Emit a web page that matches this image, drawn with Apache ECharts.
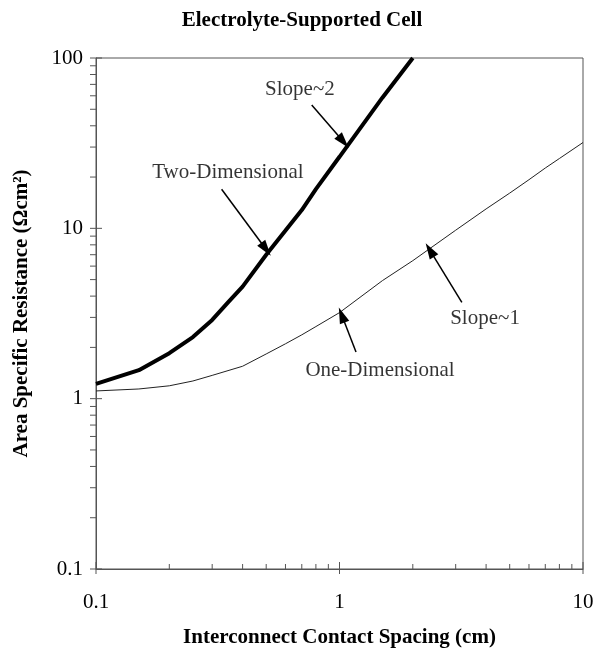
<!DOCTYPE html>
<html><head><meta charset="utf-8">
<script src="https://cdn.jsdelivr.net/npm/echarts@6/dist/echarts.min.js"></script>
<style>html,body{margin:0;padding:0;background:#fff}#c{width:604px;height:653px}</style>
</head><body><div id="c"></div><script>
// ---- data ----
const titleText = 'Electrolyte-Supported Cell';
const xAxisName = 'Interconnect Contact Spacing (cm)';
const yAxisName = 'Area Specific Resistance (\u03A9cm\u00B2)';

const twoDimX = [0.1, 0.15, 0.2, 0.25, 0.3, 0.35, 0.4, 0.5, 0.6, 0.7, 0.8, 1.0, 1.5, 2.0];
const twoDimY = [1.22, 1.47, 1.85, 2.3, 2.9, 3.7, 4.55, 7.0, 9.7, 12.8, 17.0, 26.3, 58.5, 100];

const oneDimX = [0.1, 0.15, 0.2, 0.25, 0.3, 0.4, 0.5, 0.6, 0.7, 0.8, 1.0, 1.5, 2, 3, 4, 5, 6, 7, 8, 10];
const oneDimY = [1.11, 1.14, 1.19, 1.27, 1.37, 1.55, 1.83, 2.1, 2.37, 2.65, 3.2, 4.93, 6.46, 9.75, 13.0, 16.1, 19.3, 22.6, 25.7, 31.9];

const xMajorTicks = [0.1, 1, 10];
const xMinorTicks = [0.2, 0.3, 0.4, 0.5, 0.6, 0.7, 0.8, 0.9, 2, 3, 4, 5, 6, 7, 8, 9];
const yMajorTicks = [0.1, 1, 10, 100];
const yMinorTicks = [0.2, 0.3, 0.4, 0.5, 0.6, 0.7, 0.8, 0.9, 2, 3, 4, 5, 6, 7, 8, 9, 20, 30, 40, 50, 60, 70, 80, 90];

// annotation texts: [x, y, text]
const noteTexts = [
  [0.688, 64.9, 'Slope~2'],
  [0.348, 21.2, 'Two-Dimensional'],
  [1.467, 1.47, 'One-Dimensional'],
  [3.96, 2.97, 'Slope~1']
];
// arrows: [xTail, yTail, xTip, yTip]
const noteArrows = [
  [0.769, 53.0, 1.037, 32.3],
  [0.328, 16.96, 0.499, 7.54],
  [1.169, 1.88, 1.021, 3.10],
  [3.18, 3.68, 2.35, 7.45]
];

const FONT = '"Liberation Serif", "Times New Roman", serif';
const XMIN = 0.1, XMAX = 10, YMIN = 0.1, YMAX = 100;

const chart = echarts.init(document.getElementById('c'), null, {renderer: 'canvas'});

function zip(xs, ys) { return xs.map((x, i) => [x, ys[i]]); }

const option = {
  animation: false,
  backgroundColor: '#fff',
  title: {
    text: titleText, left: 'center', top: 5,
    textStyle: {fontFamily: FONT, fontSize: 21, fontWeight: 'bold', color: '#000'}
  },
  grid: {left: 96, right: 21, top: 58, bottom: 84, show: true, borderColor: '#555', borderWidth: 1, backgroundColor: 'transparent'},
  xAxis: {
    type: 'log', logBase: 10, min: XMIN, max: XMAX,
    name: xAxisName, nameLocation: 'middle', nameGap: 58,
    nameTextStyle: {fontFamily: FONT, fontSize: 21, fontWeight: 'bold', color: '#000'},
    axisLine: {show: true, lineStyle: {color: '#555', width: 1}},
    axisTick: {show: false},
    splitLine: {show: false},
    axisLabel: {fontFamily: FONT, fontSize: 21, color: '#000', margin: 23}
  },
  yAxis: {
    type: 'log', logBase: 10, min: YMIN, max: YMAX,
    name: yAxisName, nameLocation: 'middle', nameGap: 64,
    nameTextStyle: {fontFamily: FONT, fontSize: 21, fontWeight: 'bold', color: '#000'},
    axisLine: {show: true, lineStyle: {color: '#555', width: 1}},
    axisTick: {show: false},
    splitLine: {show: false},
    axisLabel: {fontFamily: FONT, fontSize: 21, color: '#000', margin: 13}
  },
  series: [
    {
      name: 'Two-Dimensional', type: 'line', data: zip(twoDimX, twoDimY),
      symbol: 'none', smooth: false, clip: true,
      lineStyle: {color: '#000', width: 4},
      markLine: {
        silent: true, animation: false,
        symbol: ['none', 'triangle'], symbolSize: [10, 16],
        label: {show: false},
        lineStyle: {color: '#000', width: 1.5, type: 'solid'},
        data: noteArrows.map(a => [{coord: [a[0], a[1]]}, {coord: [a[2], a[3]]}])
      }
    },
    {
      name: 'One-Dimensional', type: 'line', data: zip(oneDimX, oneDimY),
      symbol: 'none', smooth: false, clip: true,
      lineStyle: {color: '#222', width: 1}
    },
    {
      name: 'notes', type: 'scatter', data: noteTexts, symbolSize: 0, silent: true,
      itemStyle: {color: '#000'},
      label: {show: true, position: 'inside', formatter: p => p.value[2],
        fontFamily: FONT, fontSize: 21, color: '#000', textBorderWidth: 0}
    },
    {
      name: 'yTicks', type: 'custom', silent: true, clip: false,
      data: yMinorTicks.map(v => [XMIN, v, 0]).concat(yMajorTicks.map(v => [XMIN, v, 1])),
      renderItem: function (params, api) {
        const p = api.coord([api.value(0), api.value(1)]);
        const major = api.value(2) === 1;
        return {type: 'line', shape: {x1: p[0] - 6, y1: p[1], x2: p[0] + (major ? 6 : 0), y2: p[1]},
          style: {stroke: '#555', lineWidth: 1}};
      }
    },
    {
      name: 'xTicks', type: 'custom', silent: true, clip: false,
      data: xMinorTicks.map(v => [v, YMIN, 0]).concat(xMajorTicks.map(v => [v, YMIN, 1])),
      renderItem: function (params, api) {
        const p = api.coord([api.value(0), api.value(1)]);
        const major = api.value(2) === 1;
        return {type: 'line', shape: {x1: p[0], y1: p[1] + (major ? 5 : 0), x2: p[0], y2: p[1] - (major ? 7 : 5)},
          style: {stroke: '#555', lineWidth: 1}};
      }
    }
  ]
};
chart.setOption(option);
</script></body></html>
